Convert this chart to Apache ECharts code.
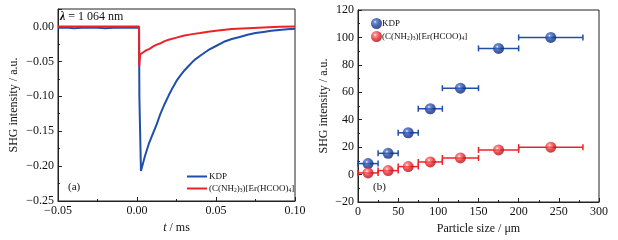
<!DOCTYPE html>
<html><head><meta charset="utf-8">
<script src="https://cdn.jsdelivr.net/npm/echarts@6/dist/echarts.min.js"></script>
<style>html,body{margin:0;padding:0;background:#fff}#c{width:618px;height:240px}</style>
</head><body><div id="c"></div>
<script>
// ---- Panel (a): SHG decay, t in ms ----
const kdpT = [-0.05,-0.045,-0.04,-0.035,-0.03,-0.025,-0.02,-0.015,-0.01,-0.005,0,0.0013,0.0015,0.0025,0.005,0.0075,0.010,0.0125,0.015,0.0175,0.020,0.0225,0.025,0.0275,0.030,0.0325,0.035,0.0375,0.040,0.045,0.050,0.055,0.060,0.065,0.070,0.075,0.080,0.085,0.090,0.095,0.100];
const kdpV = [-0.002,-0.0015,-0.0025,-0.002,-0.0015,-0.002,-0.0025,-0.002,-0.0015,-0.002,-0.002,-0.002,-0.10,-0.207,-0.186,-0.168,-0.154,-0.140,-0.124,-0.111,-0.099,-0.088,-0.078,-0.070,-0.063,-0.057,-0.051,-0.046,-0.042,-0.034,-0.028,-0.022,-0.018,-0.015,-0.012,-0.0095,-0.0078,-0.0063,-0.005,-0.004,-0.0033];
const erT = [-0.05,-0.04,-0.03,-0.02,-0.01,0,0.0013,0.0014,0.002,0.004,0.006,0.008,0.010,0.0125,0.015,0.0175,0.020,0.025,0.030,0.035,0.040,0.045,0.050,0.060,0.070,0.080,0.090,0.100];
const erV = [0,0,0,0,0,0,0,-0.057,-0.040,-0.037,-0.034,-0.032,-0.029,-0.026,-0.024,-0.021,-0.019,-0.016,-0.013,-0.011,-0.0093,-0.0075,-0.006,-0.0038,-0.0025,-0.0015,-0.0006,0.0];
const tTicks = [-0.05, 0.00, 0.05, 0.10];
// ---- Panel (b): SHG vs particle size ----
const sizeMid = [12.5, 37.5, 62.5, 90, 127.5, 175, 240];
const sizeLo = [0, 25, 50, 75, 105, 150, 200];
const sizeHi = [25, 50, 75, 105, 150, 200, 280];
const kdpShg = [8, 15.5, 30.5, 48, 63, 92, 100];
const erShg = [1.2, 2.9, 5.8, 9.2, 12.1, 18, 20];

const BLUE = '#1f4fa8', RED = '#ec2228';
const FONT = 'Liberation Serif';
const minus = s => s.replace('-', '\u2212');
function pairs(a, b) { return a.map((v, i) => [v, b[i]]); }
function ball(c1, c2, c3) {
  return new echarts.graphic.RadialGradient(0.38, 0.35, 0.65, [
    {offset: 0, color: '#ffffff'}, {offset: 0.18, color: c1}, {offset: 0.6, color: c2}, {offset: 1, color: c3}]);
}
const blueBall = ball('#4f76cc', '#1a3f9c', '#0e276a');
const redBall = ball('#ff7a7a', '#e8232b', '#a8121a');

function errBar(color) {
  return function (params, api) {
    const p1 = api.coord([api.value(0), api.value(2)]);
    const p2 = api.coord([api.value(1), api.value(2)]);
    const st = {stroke: color, lineWidth: 1.5};
    return {type: 'group', children: [
      {type: 'line', shape: {x1: p1[0], y1: p1[1], x2: p2[0], y2: p2[1]}, style: st},
      {type: 'line', shape: {x1: p1[0], y1: p1[1] - 3, x2: p1[0], y2: p1[1] + 3}, style: st},
      {type: 'line', shape: {x1: p2[0], y1: p2[1] - 3, x2: p2[0], y2: p2[1] + 3}, style: st}
    ]};
  };
}
function subRich(fs) {
  return {
    n: {fontFamily: FONT, fontSize: fs, color: '#111'},
    s: {fontFamily: FONT, fontSize: fs * 0.62, color: '#111', padding: [fs * 0.5, 0, 0, 0]}
  };
}
const erLabel = '{n|(C(NH}{s|2}{n|)}{s|3}{n|)[Er(HCOO)}{s|4}{n|]}';
const names = {KDP: '{n|KDP}', ER: erLabel, KDPb: '{n|KDP}', ERb: erLabel};

const axisCommon = {
  axisLine: {show: true, onZero: false, lineStyle: {color: '#222', width: 1}},
  axisTick: {show: true, inside: true, length: 4, lineStyle: {color: '#222'}},
  minorTick: {show: true, splitNumber: 2, length: 2, lineStyle: {color: '#222'}},
  splitLine: {show: false},
  axisLabel: {fontFamily: FONT, fontSize: 12, color: '#111', margin: 4},
  nameTextStyle: {fontFamily: FONT, fontSize: 12, color: '#111'}
};

const chart = echarts.init(document.getElementById('c'), null, {renderer: 'canvas'});
chart.setOption({
  animation: false,
  grid: [
    {left: 58, top: 9, width: 237, height: 192, show: true, borderColor: '#222', borderWidth: 1},
    {left: 358, top: 10, width: 241, height: 192, show: true, borderColor: '#222', borderWidth: 1}
  ],
  xAxis: [
    Object.assign({}, axisCommon, {gridIndex: 0, type: 'value', min: tTicks[0], max: tTicks[tTicks.length - 1], interval: 0.05,
      axisLabel: Object.assign({}, axisCommon.axisLabel, {formatter: v => minus(v.toFixed(2))}),
      name: '{i|t} / ms', nameLocation: 'middle', nameGap: 21,
      nameTextStyle: {fontFamily: FONT, fontSize: 12, color: '#111', rich: {i: {fontFamily: FONT, fontSize: 12, fontStyle: 'italic', color: '#111'}}}}),
    Object.assign({}, axisCommon, {gridIndex: 1, type: 'value', min: 0, max: 300, interval: 50,
      name: 'Particle size / \u03bcm', nameLocation: 'middle', nameGap: 21})
  ],
  yAxis: [
    Object.assign({}, axisCommon, {gridIndex: 0, type: 'value', min: -0.25, max: 0.025, interval: 0.05,
      axisLabel: Object.assign({}, axisCommon.axisLabel, {showMaxLabel: false, formatter: v => minus(v.toFixed(2))}),
      name: 'SHG intensity / a.u.', nameLocation: 'middle', nameGap: 38}),
    Object.assign({}, axisCommon, {gridIndex: 1, type: 'value', min: -20, max: 120, interval: 20,
      axisLabel: Object.assign({}, axisCommon.axisLabel, {formatter: v => minus(String(v))}),
      name: 'SHG intensity / a.u.', nameLocation: 'middle', nameGap: 28})
  ],
  legend: [
    {data: ['KDP', 'ER'], left: 182, top: 167, orient: 'vertical', itemGap: 3, itemWidth: 20, itemHeight: 2, icon: 'rect',
      formatter: n => names[n], textStyle: {rich: subRich(9), padding: [0, 0, 0, -3]}},
    {data: ['KDPb', 'ERb'], left: 366, top: 13, orient: 'vertical', itemGap: 2, itemWidth: 11, itemHeight: 11, icon: 'circle',
      formatter: n => names[n], textStyle: {rich: subRich(9), padding: [0, 0, 0, -5]}}
  ],
  graphic: [
    {type: 'text', left: 60, top: 11, style: {text: '{i|\u03bb} = 1 064 nm', fontFamily: FONT, fontSize: 12, fill: '#111',
      rich: {i: {fontFamily: FONT, fontSize: 12, fontStyle: 'italic', fontWeight: 'bold', fill: '#111'}}}},
    {type: 'text', left: 68, top: 182, style: {text: '(a)', fontFamily: FONT, fontSize: 11, fill: '#111'}},
    {type: 'text', left: 373, top: 182, style: {text: '(b)', fontFamily: FONT, fontSize: 11, fill: '#111'}}
  ],
  series: [
    {name: 'KDP', type: 'line', xAxisIndex: 0, yAxisIndex: 0, data: pairs(kdpT, kdpV), showSymbol: false, symbol: 'none',
      lineStyle: {color: BLUE, width: 2}, itemStyle: {color: BLUE}},
    {name: 'ER', type: 'line', xAxisIndex: 0, yAxisIndex: 0, data: pairs(erT, erV), showSymbol: false, symbol: 'none',
      lineStyle: {color: RED, width: 2}, itemStyle: {color: RED}},
    {name: 'KDPbErr', type: 'custom', xAxisIndex: 1, yAxisIndex: 1, renderItem: errBar(BLUE),
      data: sizeLo.map((v, i) => [v, sizeHi[i], kdpShg[i]]), encode: {x: [0, 1], y: 2}, z: 2},
    {name: 'ERbErr', type: 'custom', xAxisIndex: 1, yAxisIndex: 1, renderItem: errBar(RED),
      data: sizeLo.map((v, i) => [v, sizeHi[i], erShg[i]]), encode: {x: [0, 1], y: 2}, z: 2},
    {name: 'KDPb', type: 'scatter', xAxisIndex: 1, yAxisIndex: 1, data: pairs(sizeMid, kdpShg), symbolSize: 11,
      itemStyle: {color: blueBall}, z: 3},
    {name: 'ERb', type: 'scatter', xAxisIndex: 1, yAxisIndex: 1, data: pairs(sizeMid, erShg), symbolSize: 11,
      itemStyle: {color: redBall}, z: 3}
  ]
});
</script></body></html>
